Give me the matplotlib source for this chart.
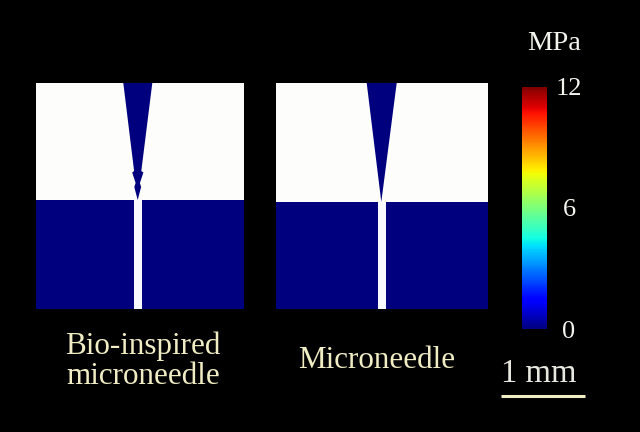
#!/usr/bin/env python3
# -*- coding: utf-8 -*-
import numpy as np
import matplotlib
matplotlib.use('Agg')
import matplotlib.pyplot as plt
from matplotlib.colors import Normalize
from matplotlib.cm import ScalarMappable

# panel outlines in image pixels
panel_x = [[36, 244], [276, 488]]
panel_top = 83
panel_bottom = 309
interface_y = [200, 202]
slit_x = [[133.5, 142], [377.5, 385.5]]

# needle outlines, pixels
bio_needle_x = [123.3, 152.3, 141.3, 143.4, 139.9, 141.1, 137.7, 134.3, 135.6, 132.2, 134.1]
bio_needle_y = [83, 83, 171, 172.5, 183, 187, 200, 187, 183, 172.5, 171]
plain_needle_x = [366.7, 396.7, 381.3]
plain_needle_y = [83, 83, 202]

# labels
panel_labels = ['Bio-inspired\nmicroneedle', 'Microneedle']
label_x = [143, 377]
label_y = [361, 360]
cbar_ticks = [0, 6, 12]
cbar_unit = 'MPa'
scale_text = '1 mm'

navy = '#00007f'
cream = '#f0ecc4'

plt.rcParams['font.family'] = ['Liberation Serif', 'DejaVu Serif']

fig = plt.figure(figsize=(6.4, 4.32), dpi=100, facecolor='black')
ax = fig.add_axes([0, 0, 1, 1])
ax.set_xlim(0, 640)
ax.set_ylim(432, 0)
ax.axis('off')

for i in range(2):
    x0, x1 = panel_x[i]
    ax.fill_between([x0, x1], panel_top, interface_y[i], color='#fdfdfb', lw=0)
    # faint yellow dither dots on the white part
    for k, row in enumerate(np.arange(panel_top + 4, interface_y[i], 4)):
        cols = np.arange(x0 + 4 + 4 * (k % 2), x1, 8)
        ax.scatter(cols, np.full(len(cols), row), s=0.5, marker='s', color='#fff6b0', lw=0)
    ax.fill_between([x0, x1], interface_y[i], panel_bottom, color=navy, lw=0)
    ax.fill_between(slit_x[i], interface_y[i], panel_bottom, color='#f8f8ff', lw=0)

ax.fill(bio_needle_x, bio_needle_y, color=navy, lw=0, zorder=3)
ax.fill(plain_needle_x, plain_needle_y, color=navy, lw=0, zorder=3)

for i in range(2):
    ax.text(label_x[i], label_y[i], panel_labels[i], color=cream, fontsize=22.4,
            ha='center', va='center', linespacing=1.05)

# colour bar
cax = fig.add_axes([521.7 / 640, 1 - 329 / 432, 25 / 640, 242.3 / 432])
cb = fig.colorbar(ScalarMappable(Normalize(0, 12), 'jet'), cax=cax)
cb.set_ticks([])
cb.outline.set_visible(False)
for v in cbar_ticks:
    cax.annotate(str(v), (1.89, v), xycoords=cax.get_yaxis_transform(), xytext=(0, -1.8),
                 textcoords='offset points', color='#f4f4ee', fontsize=19,
                 ha='center', va='center')
ax.text(554, 44, cbar_unit, color='#f4f4ee', fontsize=20.5, ha='center', va='center')

# scale bar
ax.text(539, 374, scale_text, color='#e8e8e0', fontsize=23.5, ha='center', va='center')
ax.plot([501, 585], [395.5, 395.5], color=cream, lw=2.2, solid_capstyle='butt')

fig.savefig('out.png', dpi=100, facecolor='black')
